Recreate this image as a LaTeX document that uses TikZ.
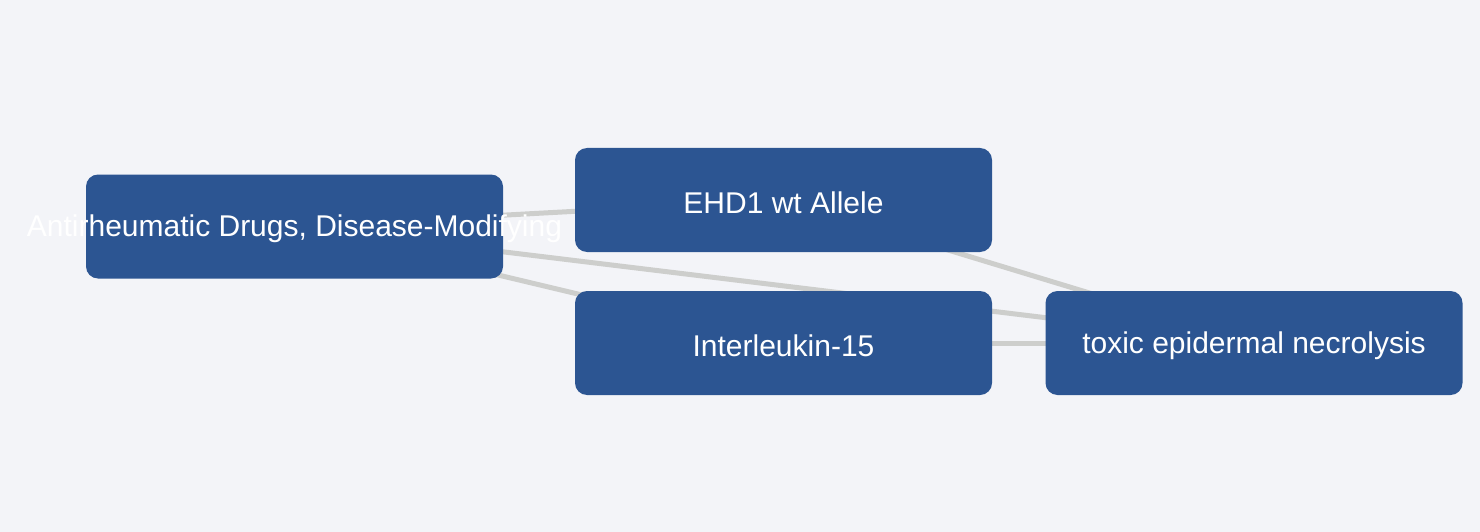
\documentclass[tikz,border=0pt]{standalone}
\usepackage{fontspec}
\setmainfont{Liberation Sans}
\usetikzlibrary{backgrounds}
\definecolor{bg}{HTML}{F3F4F8}
\definecolor{nodefill}{HTML}{2C5592}
\definecolor{edge}{HTML}{CDCECC}
\pgfdeclarelayer{bgfill}
\pgfsetlayers{bgfill,background,main}
\newcommand{\overtext}[1]{\raisebox{-2.5pt}[\height][\depth]{\makebox[0pt][c]{#1}}}
\begin{document}
\begin{tikzpicture}[x=1pt,y=-1pt,
  box/.style={fill=nodefill, rounded corners=12pt, minimum width=417pt, minimum height=104pt, inner sep=0pt, text=white, font=\fontsize{30}{34}\selectfont},
  link/.style={draw=edge, line width=5pt}]
\begin{pgfonlayer}{bgfill}
\fill[bg] (0,0) rectangle (1480,532);
\end{pgfonlayer}
\useasboundingbox (0,0) rectangle (1480,532);
\node[box] (A) at (294.5,226.5) {\overtext{Antirheumatic Drugs, Disease-Modifying}};
\node[box] (B) at (783.5,200) {\overtext{EHD1 wt Allele}};
\node[box] (C) at (783.5,343) {\overtext{Interleukin-15}};
\node[box] (D) at (1254,343) {\overtext{toxic epidermal necrolysis}};
\begin{pgfonlayer}{background}
\draw[link] (A.center) -- (B.center);
\draw[link] (A.center) -- (C.center);
\draw[link] (A.center) -- (D.center);
\draw[link] (B.center) -- (D.center);
\draw[link] (C.center) -- (D.center);
\end{pgfonlayer}
\end{tikzpicture}
\end{document}
